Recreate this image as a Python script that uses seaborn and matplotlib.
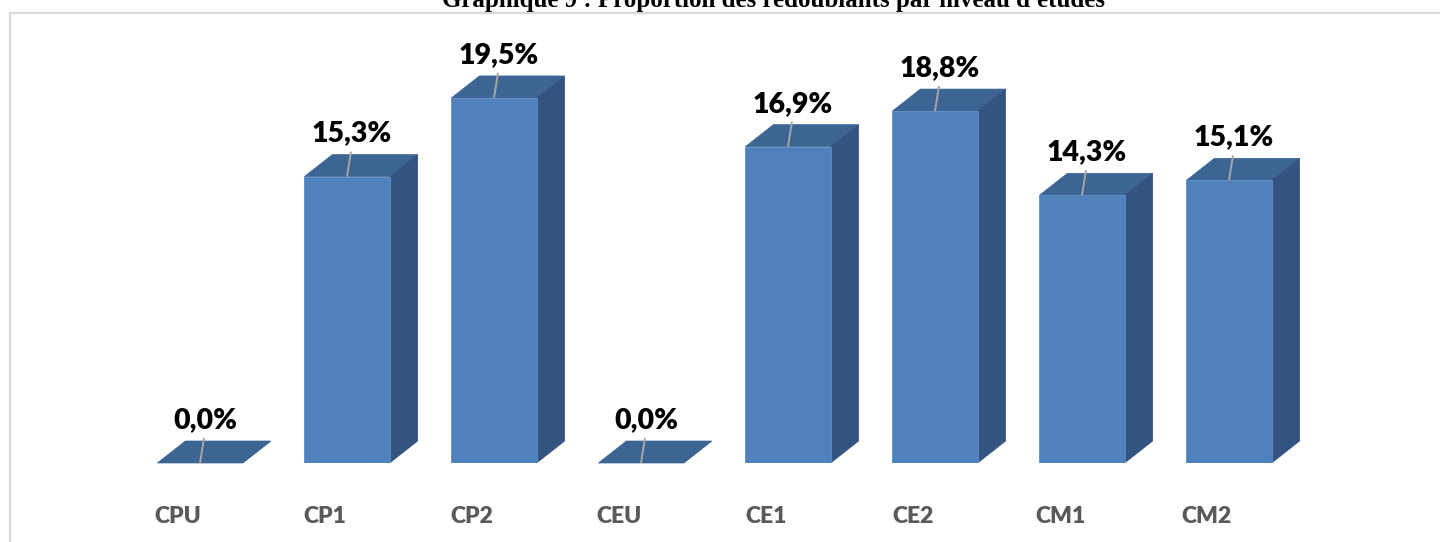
import matplotlib
matplotlib.use("Agg")
import matplotlib.pyplot as plt
import matplotlib.transforms as mtransforms
from matplotlib.patches import Polygon, Rectangle
import seaborn as sns
import pandas as pd

# ── Data ─────────────────────────────────────────────────────────────────────
niveaux = ["CPU", "CP1", "CP2", "CEU", "CE1", "CE2", "CM1", "CM2"]
proportions = [0.0, 15.3, 19.5, 0.0, 16.9, 18.8, 14.3, 15.1]
titre = "Graphique 9 : Proportion des redoublants par niveau d'études"

FRONT = "#4F81BD"
TOP = "#3D6594"
SIDE = "#335381"
LEADER = "#A6A6A6"
TICK_GREY = "#595959"
FRAME = "#D9D9D9"

W, H, DPI = 1440, 542, 100
sns.set_theme(style="white")

df = pd.DataFrame({"niveau": niveaux, "pct": proportions})

fig = plt.figure(figsize=(W / DPI, H / DPI), dpi=DPI)
fig.patch.set_facecolor("white")

# axes geometry in pixels
px_unit_x = 147.0
px_unit_y = 18.72
ax_left, ax_bottom = 200 - 0.5 * px_unit_x, 79
ymax = 22
ax = fig.add_axes([ax_left / W, ax_bottom / H,
                   8 * px_unit_x / W, ymax * px_unit_y / H])
ax.set_facecolor("none")

sns.barplot(data=df, x="niveau", y="pct", order=niveaux, color=FRONT,
            saturation=1, width=0.58, ax=ax, zorder=3,
            edgecolor="#5F8DC5", linewidth=0.6)
ax.set_xlim(-0.5, 7.5)
ax.set_ylim(0, ymax)

# 3D depth offsets (pixels -> data units)
dx = 28 / px_unit_x
dy = 22 / px_unit_y

for bar, val in zip(ax.patches, proportions):
    x0, w, h = bar.get_x(), bar.get_width(), bar.get_height()
    top = Polygon([(x0, h), (x0 + w, h), (x0 + w + dx, h + dy), (x0 + dx, h + dy)],
                  closed=True, facecolor=TOP, edgecolor=TOP, linewidth=0.5,
                  zorder=2, clip_on=False)
    side = Polygon([(x0 + w, 0), (x0 + w, h), (x0 + w + dx, h + dy), (x0 + w + dx, dy)],
                   closed=True, facecolor=SIDE, edgecolor=SIDE, linewidth=0.5,
                   zorder=2, clip_on=False)
    ax.add_patch(top)
    ax.add_patch(side)

    cx = x0 + w / 2
    # leader line from the front top edge up to the label
    ax.plot([cx, cx + 4 / px_unit_x], [h, h + 25 / px_unit_y],
            color=LEADER, linewidth=1.4, zorder=4, clip_on=False,
            solid_capstyle="butt")
    ax.annotate(f"{val:.1f}%".replace(".", ","), (cx, h),
                xytext=(5 * 0.72, 35 * 0.72), textcoords="offset points",
                ha="center", va="baseline", fontsize=20.5,
                fontfamily="Lato", fontweight="heavy", color="black",
                annotation_clip=False)

# axes cosmetics
for s in ax.spines.values():
    s.set_visible(False)
ax.set_yticks([])
ax.set_xlabel("")
ax.set_ylabel("")
ax.tick_params(axis="x", length=0, pad=31)
shift = mtransforms.ScaledTranslation(-22 / DPI, 0, fig.dpi_scale_trans)
for lbl in ax.get_xticklabels():
    lbl.set_fontfamily("Lato")
    lbl.set_fontweight("heavy")
    lbl.set_fontsize(16.5)
    lbl.set_color(TICK_GREY)
    lbl.set_transform(lbl.get_transform() + shift)

# chart frame (only top and left edges visible)
frame = Rectangle((10 / W, -0.05), 1.2, 1.05 - 12.5 / H,
                  transform=fig.transFigure, fill=False,
                  edgecolor=FRAME, linewidth=1.6, clip_on=False)
fig.patches.append(frame)

# title (clipped at the top edge as in the source)
fig.text(773.5 / W, 1 - 7.5 / H, titre, ha="center", va="baseline",
         fontsize=18, fontfamily="Liberation Serif", fontweight="bold",
         color="black")

fig.savefig("out.png", dpi=DPI, facecolor="white")
